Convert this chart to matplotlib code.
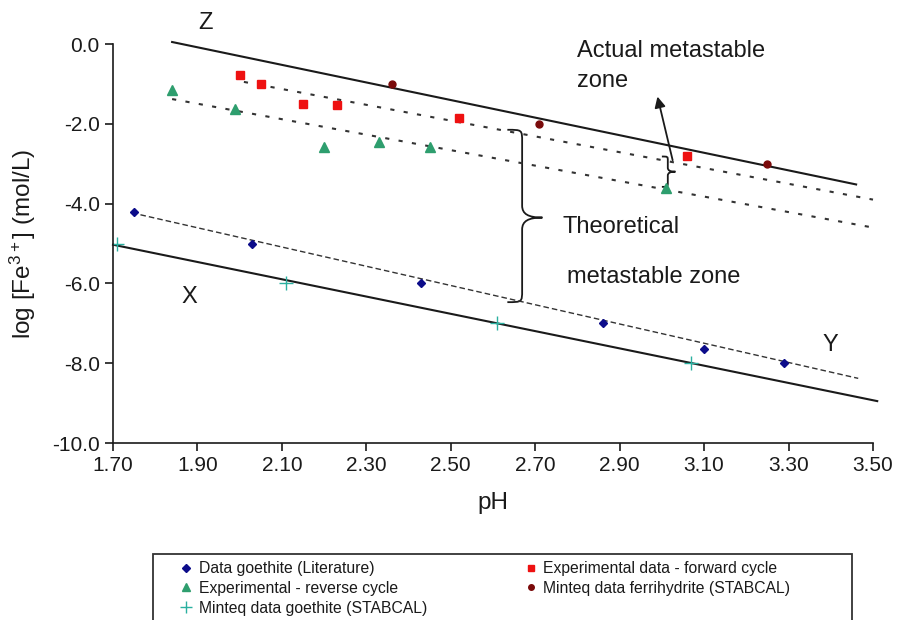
import numpy as np
import matplotlib
matplotlib.use("Agg")
import matplotlib.pyplot as plt
from matplotlib.path import Path
from matplotlib.patches import PathPatch, Rectangle

plt.rcParams['font.family'] = ['Liberation Sans', 'DejaVu Sans']
plt.rcParams['mathtext.default'] = 'regular'
plt.rcParams['axes.unicode_minus'] = False

# Data goethite (Literature)
gl_ph = [1.75, 2.03, 2.43, 2.86, 3.10, 3.29]
gl_fe = [-4.2, -5.0, -6.0, -7.0, -7.65, -8.0]

# Experimental data - forward cycle
fw_ph = [2.00, 2.05, 2.15, 2.23, 2.52, 3.06]
fw_fe = [-0.78, -1.0, -1.5, -1.52, -1.85, -2.8]

# Experimental - reverse cycle
rv_ph = [1.84, 1.99, 2.20, 2.33, 2.45, 3.01]
rv_fe = [-1.15, -1.63, -2.57, -2.45, -2.57, -3.6]

# Minteq data ferrihydrite (STABCAL)
mf_ph = [2.36, 2.71, 3.25]
mf_fe = [-1.0, -2.0, -3.0]

# Minteq data goethite (STABCAL)
mg_ph = [1.71, 2.11, 2.61, 3.07]
mg_fe = [-5.0, -6.0, -7.0, -8.0]

# boundary lines (end points)
z_ph, z_fe = [1.84, 3.46], [0.05, -3.52]
x_ph, x_fe = [1.70, 3.51], [-5.03, -8.95]
fw_line_ph, fw_line_fe = [2.01, 3.50], [-0.95, -3.9]
rv_line_ph, rv_line_fe = [1.84, 3.51], [-1.38, -4.62]
gl_line_ph, gl_line_fe = [1.765, 3.465], [-4.28, -8.38]

xticks = [1.70, 1.90, 2.10, 2.30, 2.50, 2.70, 2.90, 3.10, 3.30, 3.50]
yticks = [0.0, -2.0, -4.0, -6.0, -8.0, -10.0]

fig = plt.figure(figsize=(8.97, 6.2), dpi=100)
ax = fig.add_axes([113/897, 1-443/620, 760/897, 399/620])

ink = '#1a1a1a'

# lines
ax.plot(z_ph, z_fe, color=ink, lw=1.5, clip_on=False)
ax.plot(x_ph, x_fe, color=ink, lw=1.5, clip_on=False)
ax.plot(fw_line_ph, fw_line_fe, color='#333333', lw=1.5, dashes=(2, 4.5), clip_on=False)
ax.plot(rv_line_ph, rv_line_fe, color='#333333', lw=1.5, dashes=(2, 4.5), clip_on=False)
ax.plot(gl_line_ph, gl_line_fe, color='#333333', lw=1.0, dashes=(4, 2.2))

# data points
ax.plot(gl_ph, gl_fe, 'D', color='#0c0c8a', ms=4.5, ls='none', label='Data goethite (Literature)')
ax.plot(rv_ph, rv_fe, '^', color='#2e9e6e', ms=6.5, ls='none', label='Experimental - reverse cycle')
ax.plot(mg_ph, mg_fe, '+', color='#2ab0a0', ms=10, mew=1.0, ls='none', label='Minteq data goethite (STABCAL)')
ax.plot(fw_ph, fw_fe, 's', color='#ee1111', ms=5.2, ls='none', label='Experimental data - forward cycle')
ax.plot(mf_ph, mf_fe, 'o', color='#7a0a0a', ms=5, ls='none', label='Minteq data ferrihydrite (STABCAL)')


def brace(ax, x_left, x_stem, x_tip, y_top, y_mid, y_bot, r):
    # right-facing curly brace
    verts = [
        (x_left, y_top),
        (x_stem, y_top), (x_stem, y_top), (x_stem, y_top - r),
        (x_stem, y_mid + r),
        (x_stem, y_mid + r * 0.3), (x_stem + (x_tip - x_stem) * 0.3, y_mid), (x_tip, y_mid),
        (x_stem + (x_tip - x_stem) * 0.3, y_mid), (x_stem, y_mid - r * 0.3), (x_stem, y_mid - r),
        (x_stem, y_bot + r),
        (x_stem, y_bot), (x_stem, y_bot), (x_left, y_bot),
    ]
    codes = [Path.MOVETO,
             Path.CURVE4, Path.CURVE4, Path.CURVE4,
             Path.LINETO,
             Path.CURVE4, Path.CURVE4, Path.CURVE4,
             Path.CURVE4, Path.CURVE4, Path.CURVE4,
             Path.LINETO,
             Path.CURVE4, Path.CURVE4, Path.CURVE4]
    ax.add_patch(PathPatch(Path(verts, codes), fill=False, ec=ink, lw=1.3))


brace(ax, 2.634, 2.669, 2.717, -2.15, -4.35, -6.47, 0.3)
brace(ax, 3.000, 3.014, 3.032, -2.82, -3.2, -3.58, 0.1)

ax.annotate('', xy=(2.988, -1.25), xytext=(3.027, -2.98),
            arrowprops=dict(arrowstyle='-|>', color=ink, lw=1.3, mutation_scale=16))

# text labels
ax.text(1.92, 0.52, 'Z', fontsize=17, color=ink, ha='center', va='center', clip_on=False)
ax.text(1.88, -6.35, 'X', fontsize=17, color=ink, ha='center', va='center')
ax.text(3.40, -7.55, 'Y', fontsize=17, color=ink, ha='center', va='center')
ax.text(2.80, -0.55, 'Actual metastable\nzone', fontsize=17, color=ink, ha='left', va='center',
        linespacing=1.45)
ax.text(2.765, -4.58, 'Theoretical', fontsize=17, color=ink, ha='left', va='center')
ax.text(2.776, -5.83, 'metastable zone', fontsize=17, color=ink, ha='left', va='center')

ax.set_xlim(1.70, 3.50)
ax.set_ylim(-10.0, 0.0)
ax.set_xticks(xticks)
ax.set_xticklabels(['%.2f' % t for t in xticks])
ax.set_yticks(yticks)
ax.set_yticklabels(['%.1f' % t for t in yticks])
ax.tick_params(labelsize=15, length=6, width=1.2, colors=ink, direction='out')
ax.spines['top'].set_visible(False)
ax.spines['right'].set_visible(False)
for s in ['left', 'bottom']:
    ax.spines[s].set_color(ink)
    ax.spines[s].set_linewidth(1.2)

ax.set_xlabel('pH', fontsize=17.5, color=ink, labelpad=12)
ax.set_ylabel('log [Fe$^{3+}$] (mol/L)', fontsize=17.5, color=ink, labelpad=10)

leg = fig.legend(loc='upper left', bbox_to_anchor=(177/897, 1-558/620),
                 ncol=2, frameon=False, fontsize=11.3, borderaxespad=0,
                 handlelength=0.8, handletextpad=0.4, labelspacing=0.3, markerscale=0.8,
                 borderpad=0.2, columnspacing=6.2)
for t in leg.get_texts():
    t.set_color(ink)
fig.patches.append(Rectangle((153/897, -0.05), 699/897, 0.05 + 1-554/620,
                             transform=fig.transFigure, fill=False, ec='#333333', lw=1.3))

fig.savefig('out.png', dpi=100)
